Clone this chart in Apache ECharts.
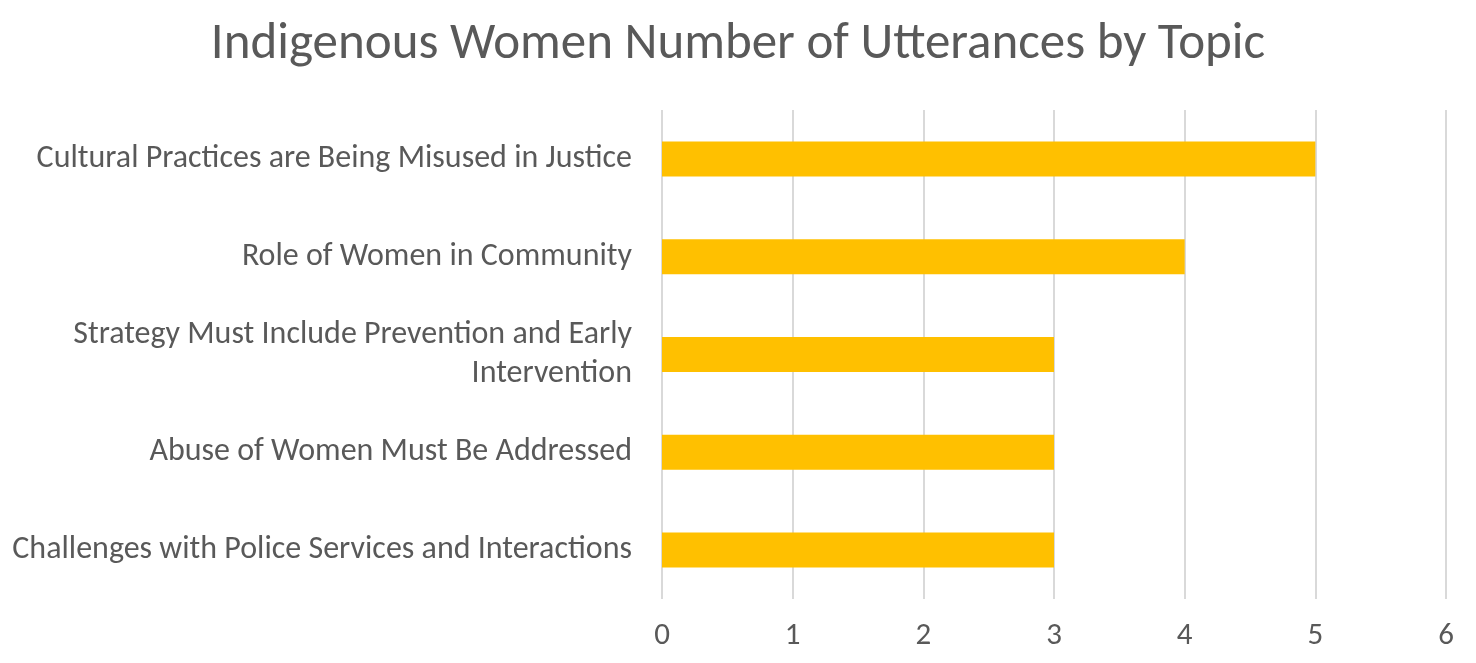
<!DOCTYPE html>
<html>
<head>
<meta charset="utf-8">
<script src="https://cdn.jsdelivr.net/npm/echarts@6/dist/echarts.min.js"></script>
<style>
  html, body { margin: 0; padding: 0; background: #fff; }
  #main { width: 1476px; height: 663px; }
</style>
</head>
<body>
<div id="main"></div>
<script>
// 数据（从下到上，与 ECharts 类目轴顺序一致）
var topics = [
    'Challenges with Police Services and Interactions',
    'Abuse of Women Must Be Addressed',
    'Strategy Must Include Prevention and Early\nIntervention',
    'Role of Women in Community',
    'Cultural Practices are Being Misused in Justice'
];
var utterances = [3, 3, 3, 4, 5];
var xTicks = [0, 1, 2, 3, 4, 5, 6];

var textColor = '#595959';
var fontFamily = 'Carlito, Calibri, "Open Sans", "Noto Sans", sans-serif';

var myChart = echarts.init(document.getElementById('main'));
myChart.setOption({
    animation: false,
    title: {
        text: 'Indigenous Women Number of Utterances by Topic',
        left: 'center',
        top: 15,
        textStyle: { color: textColor, fontSize: 51, fontWeight: 'normal', fontFamily: fontFamily }
    },
    grid: { left: 662, right: 30, top: 110, bottom: 64 },
    xAxis: {
        type: 'value',
        min: xTicks[0],
        max: xTicks[xTicks.length - 1],
        interval: 1,
        axisLine: { show: false },
        axisTick: { show: false },
        axisLabel: { color: textColor, fontSize: 31, margin: 22, fontFamily: fontFamily },
        splitLine: { show: true, lineStyle: { color: '#d9d9d9', width: 2 } }
    },
    yAxis: {
        type: 'category',
        data: topics,
        axisLine: { show: false },
        axisTick: { show: false },
        axisLabel: { color: textColor, fontSize: 32, margin: 30, lineHeight: 39, fontFamily: fontFamily }
    },
    series: [{
        type: 'bar',
        data: utterances,
        barWidth: 35,
        itemStyle: { color: '#FFC000' }
    }]
});
</script>
</body>
</html>
